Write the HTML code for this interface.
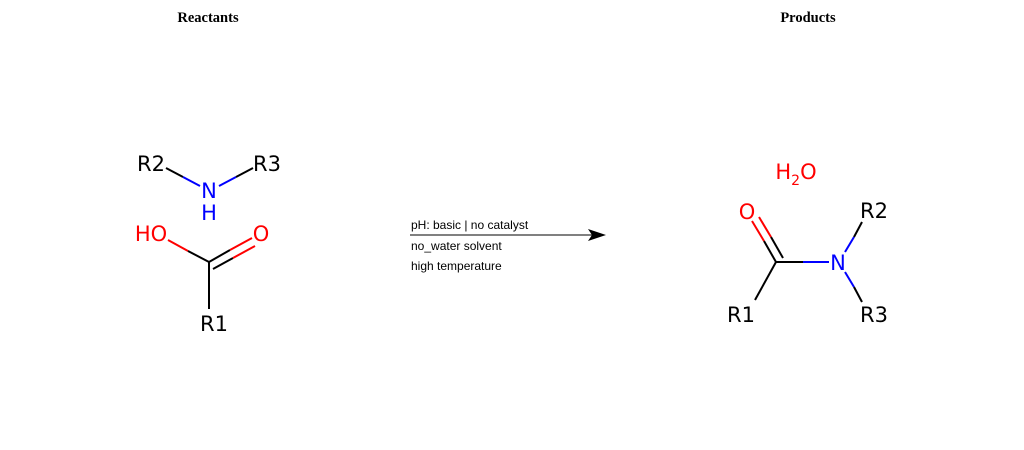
<!DOCTYPE html><html><head><style>body{margin:0;background:#fff}svg{display:block}</style></head><body>
<svg width="1024" height="450" xmlns="http://www.w3.org/2000/svg">
<g font-family="Liberation Serif, serif" font-weight="bold" font-size="14.5" text-anchor="middle">
<text x="208" y="22">Reactants</text><text x="808" y="22">Products</text></g>
<g stroke-width="2" fill="none">
<line x1="166" y1="168" x2="183" y2="177" stroke="#000"/><line x1="183" y1="177" x2="200" y2="186" stroke="#00f"/>
<line x1="219" y1="186" x2="236" y2="177" stroke="#00f"/><line x1="236" y1="177" x2="253" y2="168" stroke="#000"/>
<line x1="168" y1="240" x2="188" y2="251" stroke="#f00"/><line x1="188" y1="251" x2="209" y2="262" stroke="#000"/>
<line x1="209" y1="262" x2="230" y2="250" stroke="#000"/><line x1="230" y1="250" x2="252" y2="238" stroke="#f00"/>
<line x1="213" y1="269" x2="233" y2="258" stroke="#000"/><line x1="233" y1="258" x2="255" y2="246" stroke="#f00"/>
<line x1="209" y1="262" x2="209" y2="309" stroke="#000"/>
<line x1="776" y1="262" x2="764" y2="241" stroke="#000"/><line x1="764" y1="241" x2="752" y2="221" stroke="#f00"/>
<line x1="783" y1="258" x2="771" y2="237" stroke="#000"/><line x1="771" y1="237" x2="759" y2="217" stroke="#f00"/>
<line x1="776" y1="262" x2="755" y2="300" stroke="#000"/>
<line x1="776" y1="262" x2="803" y2="262" stroke="#000"/><line x1="803" y1="262" x2="829" y2="262" stroke="#00f"/>
<line x1="845" y1="252" x2="854" y2="237" stroke="#00f"/><line x1="854" y1="237" x2="862" y2="222" stroke="#000"/>
<line x1="845" y1="272" x2="854" y2="287" stroke="#00f"/><line x1="854" y1="287" x2="862" y2="302" stroke="#000"/>
</g>
<g font-family="DejaVu Sans, sans-serif" font-size="21" text-anchor="middle">
<text x="151" y="171">R2</text><text x="267" y="171">R3</text>
<text x="209" y="198" fill="#00f">N</text><text x="209" y="220" fill="#00f">H</text>
<text x="151" y="241" fill="#f00">HO</text><text x="261" y="241" fill="#f00">O</text>
<text x="214" y="331">R1</text>
<text x="796" y="179" fill="#f00">H<tspan font-size="14" dy="6">2</tspan><tspan dy="-6">O</tspan></text>
<text x="747" y="219" fill="#f00">O</text><text x="838" y="270" fill="#00f">N</text>
<text x="874" y="218">R2</text><text x="874" y="322">R3</text><text x="741" y="322">R1</text>
</g>
<line x1="410" y1="235" x2="595" y2="235" stroke="#000" stroke-width="1"/>
<polygon points="606,235 588,229 592,235 588,241" fill="#000"/>
<g font-family="Liberation Sans, sans-serif" font-size="12">
<text x="411" y="229">pH: basic | no catalyst</text><text x="411" y="250">no_water solvent</text><text x="411" y="270">high temperature</text></g>
</svg></body></html>
